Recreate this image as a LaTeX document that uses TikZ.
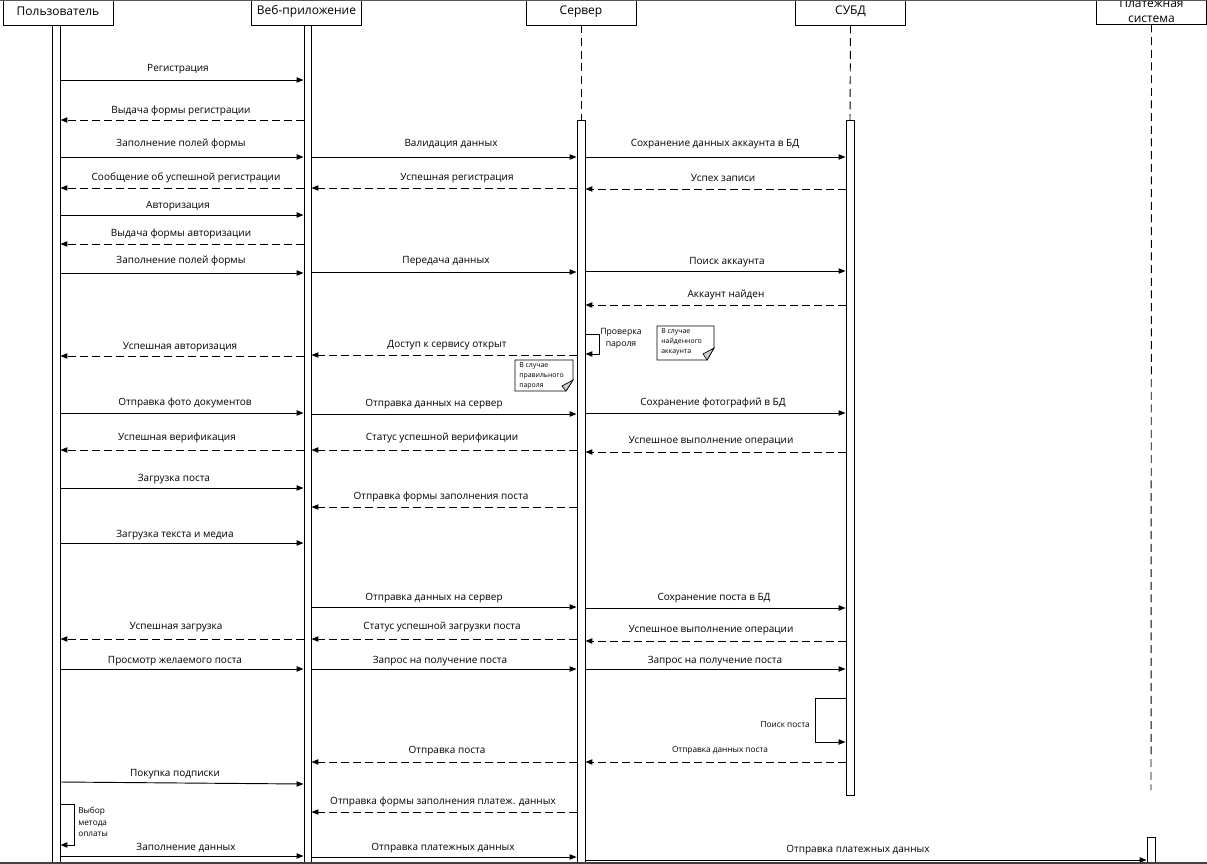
\documentclass[tikz,border=0pt]{standalone}
\usepackage{fontspec}
\setmainfont{Open Sans}
\usetikzlibrary{arrows.meta,fit}
\begin{document}
\begin{tikzpicture}[x=0.75pt,y=-0.75pt,
  head/.style={draw,line width=0.7pt,minimum width=82.5pt,minimum height=20.25pt,font=\fontsize{9}{10}\selectfont},
  bar/.style={draw,fill=white,inner sep=0pt,line width=0.7pt},
  life/.style={line width=0.7pt,dash pattern=on 6pt off 3.5pt},
  msg/.style={line width=0.7pt,-{Triangle[length=5.2pt,width=4pt]}},
  ret/.style={msg,dash pattern=on 6pt off 3pt},
  lbl/.style={font=\fontsize{7.5}{9}\selectfont,inner sep=0pt,yshift=-1.4pt},
  small/.style={font=\fontsize{6.2}{8.6}\selectfont,inner sep=0pt,align=left,yshift=-0.8pt},
  tiny/.style={font=\fontsize{5.2}{7.6}\selectfont,inner sep=0pt,align=left},
  notebox/.style={draw,line width=0.6pt,fill=white}]
  \useasboundingbox (0,0) rectangle (1207,864);
  \node[head] (usr) at (58,11.5) {Пользователь};
  \node[head] (web) at (306.5,11.5) {Веб-приложение};
  \node[head] (srv) at (581,11.5) {Сервер};
  \node[head] (dbms) at (850.5,11.5) {СУБД};
  \node[head,align=center,inner ysep=0pt,font=\fontsize{9}{11}\selectfont] (pay) at (1151.5,10.5) {Платежная\\система};
  \draw[black!65,line width=1.1pt] (0,0) -- (1207,0);

  \coordinate (pend) at (1151,790);
  \draw[life] (srv.south) -- (581,120);
  \draw[life] (dbms.south) -- (850,120);
  \draw[life] (pay.south) -- (pend);
  \node[bar,fit={(52,25) (60,870)}] (ubar) {};
  \node[bar,fit={(304,25) (311,870)}] (wbar) {};
  \node[bar,fit={(577,120) (585,870)}] (sbar) {};
  \node[bar,fit={(846,120) (854,795)}] (dbar) {};
  \node[bar,fit={(1147,837) (1155,870)}] (pbar) {};

  \draw[msg] (ubar.east |- 0,80) -- (wbar.west |- 0,80);
  \node[lbl] (m1) at (178,67) {Регистрация};
  \draw[ret] (wbar.west |- 0,120) -- (ubar.east |- 0,120);
  \node[lbl] (m2) at (181,109) {Выдача формы регистрации};
  \draw[msg] (ubar.east |- 0,157) -- (wbar.west |- 0,157);
  \node[lbl] (m3) at (181,142) {Заполнение полей формы};
  \draw[msg] (wbar.east |- 0,157) -- (sbar.west |- 0,157);
  \node[lbl] (m4) at (451,142) {Валидация данных};
  \draw[msg] (sbar.east |- 0,157) -- (dbar.west |- 0,157);
  \node[lbl] (m5) at (715,142) {Сохранение данных аккаунта в БД};
  \draw[ret] (dbar.west |- 0,189) -- (sbar.east |- 0,189);
  \node[lbl] (m6) at (723,176) {Успех записи};
  \draw[ret] (sbar.west |- 0,188) -- (wbar.east |- 0,188);
  \node[lbl] (m7) at (457,176) {Успешная регистрация};
  \draw[ret] (wbar.west |- 0,188) -- (ubar.east |- 0,188);
  \node[lbl] (m8) at (186,176) {Сообщение об успешной регистрации};

  \draw[msg] (ubar.east |- 0,215) -- (wbar.west |- 0,215);
  \node[lbl] (m9) at (178,204) {Авторизация};
  \draw[ret] (wbar.west |- 0,244) -- (ubar.east |- 0,244);
  \node[lbl] (m10) at (181,232) {Выдача формы авторизации};
  \draw[msg] (ubar.east |- 0,273) -- (wbar.west |- 0,273);
  \node[lbl] (m11) at (181,259) {Заполнение полей формы};
  \draw[msg] (wbar.east |- 0,272) -- (sbar.west |- 0,272);
  \node[lbl] (m12) at (446,259) {Передача данных};
  \draw[msg] (sbar.east |- 0,271) -- (dbar.west |- 0,271);
  \node[lbl] (m13) at (727,260) {Поиск аккаунта};
  \draw[ret] (dbar.west |- 0,305) -- (sbar.east |- 0,305);
  \node[lbl] (m14) at (726,293) {Аккаунт найден};
  \draw[msg] (sbar.east |- 0,334) -| (599,354) -- (sbar.east |- 0,354);
  \node[small,align=center,font=\fontsize{6.5}{9}\selectfont] (m15) at (621,337) {Проверка\\пароля};
  \draw[ret] (sbar.west |- 0,355) -- (wbar.east |- 0,355);
  \node[lbl] (m16) at (447,343) {Доступ к сервису открыт};
  \draw[ret] (wbar.west |- 0,356) -- (ubar.east |- 0,356);
  \node[lbl] (m17) at (180,345) {Успешная авторизация};

  \draw[notebox] (515,360) -- (573,360) -- (573,380) -- (566,391) -- (515,391) -- cycle;
  \filldraw[fill=black!20,line width=0.5pt] (573,380) -- (562,386) -- (566,391) -- cycle;
  \node[tiny,anchor=north west] (n1) at (519,362) {В случае\\правильного\\пароля};
  \draw[notebox] (657,326) -- (714,326) -- (714,348) -- (707,360) -- (657,360) -- cycle;
  \filldraw[fill=black!20,line width=0.5pt] (714,348) -- (703,354) -- (707,360) -- cycle;
  \node[tiny,anchor=north west] (n2) at (661,328) {В случае\\найденного\\аккаунта};

  \draw[msg] (ubar.east |- 0,413) -- (wbar.west |- 0,413);
  \node[lbl] (m18) at (185,401) {Отправка фото документов};
  \draw[msg] (wbar.east |- 0,414) -- (sbar.west |- 0,414);
  \node[lbl] (m19) at (434,402) {Отправка данных на сервер};
  \draw[msg] (sbar.east |- 0,413) -- (dbar.west |- 0,413);
  \node[lbl] (m20) at (713,401) {Сохранение фотографий в БД};
  \draw[ret] (wbar.west |- 0,450) -- (ubar.east |- 0,450);
  \node[lbl] (m21) at (177,436) {Успешная верификация};
  \draw[ret] (sbar.west |- 0,450) -- (wbar.east |- 0,450);
  \node[lbl] (m22) at (442,436) {Статус успешной верификации};
  \draw[ret] (dbar.west |- 0,452) -- (sbar.east |- 0,452);
  \node[lbl] (m23) at (711,439) {Успешное выполнение операции};

  \draw[msg] (ubar.east |- 0,488) -- (wbar.west |- 0,488);
  \node[lbl] (m24) at (174,477) {Загрузка поста};
  \draw[ret] (sbar.west |- 0,507) -- (wbar.east |- 0,507);
  \node[lbl] (m25) at (441,495) {Отправка формы заполнения поста};
  \draw[msg] (ubar.east |- 0,543) -- (wbar.west |- 0,543);
  \node[lbl] (m26) at (175,533) {Загрузка текста и медиа};
  \draw[msg] (wbar.east |- 0,607) -- (sbar.west |- 0,607);
  \node[lbl] (m27) at (434,596) {Отправка данных на сервер};
  \draw[msg] (sbar.east |- 0,608) -- (dbar.west |- 0,608);
  \node[lbl] (m28) at (714,596) {Сохранение поста в БД};
  \draw[ret] (wbar.west |- 0,639) -- (ubar.east |- 0,639);
  \node[lbl] (m29) at (176,625) {Успешная загрузка};
  \draw[ret] (sbar.west |- 0,639) -- (wbar.east |- 0,639);
  \node[lbl] (m30) at (442,625) {Статус успешной загрузки поста};
  \draw[ret] (dbar.west |- 0,641) -- (sbar.east |- 0,641);
  \node[lbl] (m31) at (711,628) {Успешное выполнение операции};

  \draw[msg] (ubar.east |- 0,669) -- (wbar.west |- 0,669);
  \node[lbl] (m32) at (175,659) {Просмотр желаемого поста};
  \draw[msg] (wbar.east |- 0,669) -- (sbar.west |- 0,669);
  \node[lbl] (m33) at (440,659) {Запрос на получение поста};
  \draw[msg] (sbar.east |- 0,669) -- (dbar.west |- 0,669);
  \node[lbl] (m34) at (715,659) {Запрос на получение поста};
  \draw[msg] (dbar.west |- 0,698) -| (815,742) -- (dbar.west |- 0,742);
  \node[small,anchor=east] (m35) at (810,724) {Поиск поста};
  \draw[ret] (dbar.west |- 0,762) -- (sbar.east |- 0,762);
  \node[small] (m36) at (720,749) {Отправка данных поста};
  \draw[ret] (sbar.west |- 0,762) -- (wbar.east |- 0,762);
  \node[lbl] (m37) at (447,749) {Отправка поста};

  \draw[msg] (ubar.east |- 0,782) -- (wbar.west |- 0,784);
  \node[lbl] (m38) at (175,772) {Покупка подписки};
  \draw[msg] (ubar.east |- 0,804) -| (74,845) -- (ubar.east |- 0,845);
  \node[small,anchor=north west] (m39) at (78,806) {Выбор\\метода\\оплаты};
  \draw[ret] (sbar.west |- 0,812) -- (wbar.east |- 0,812);
  \node[lbl] (m40) at (443,800) {Отправка формы заполнения платеж. данных};
  \draw[msg] (ubar.east |- 0,856) -- (wbar.west |- 0,856);
  \node[lbl] (m41) at (186,846) {Заполнение данных};
  \draw[msg] (wbar.east |- 0,857) -- (sbar.west |- 0,857);
  \node[lbl] (m42) at (443,846) {Отправка платежных данных};
  \draw[msg] (sbar.east |- 0,860) -- (pbar.west |- 0,860);
  \node[lbl] (m43) at (858,848) {Отправка платежных данных};
  \fill[black!75] (0,861.5) rectangle (1207,864);
\end{tikzpicture}
\end{document}
